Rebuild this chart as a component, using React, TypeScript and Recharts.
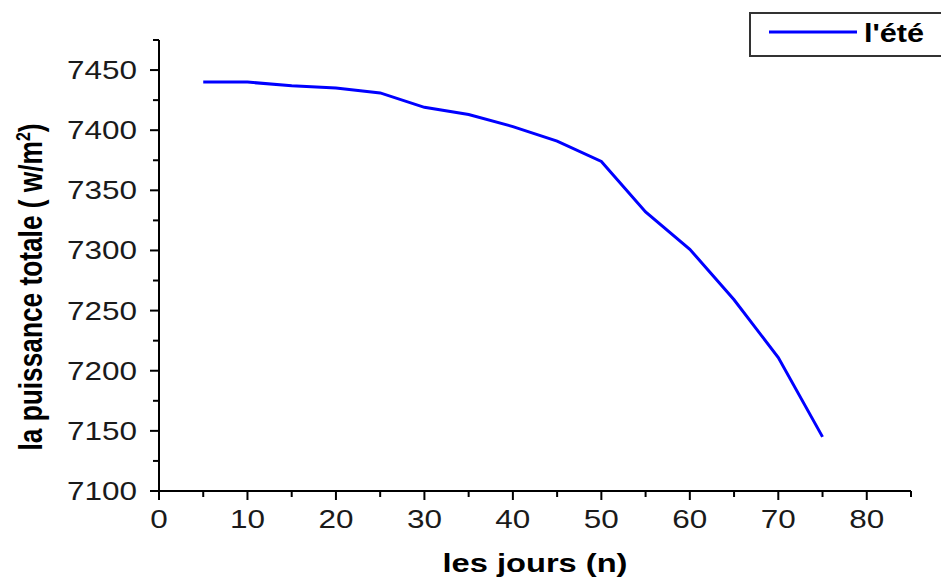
import { LineChart, Line, XAxis, YAxis, Legend, Label } from "recharts";

// jours (n) et puissance totale (w/m²) - été
const days = [5, 10, 15, 20, 25, 30, 35, 40, 45, 50, 55, 60, 65, 70, 75];
const puissance = [
  7440, 7440, 7437, 7435, 7431, 7419, 7413, 7403, 7391, 7374, 7332, 7301, 7259,
  7211, 7145,
];

const xMajor = [0, 10, 20, 30, 40, 50, 60, 70, 80];
const xMinor = [5, 15, 25, 35, 45, 55, 65, 75, 85];
const yMajor = [7100, 7150, 7200, 7250, 7300, 7350, 7400, 7450];
const yMinor = [7125, 7175, 7225, 7275, 7325, 7375, 7425, 7475];

const data = days.map((n, i) => ({ n, ete: puissance[i] }));

const FONT = "'Liberation Sans', Arial, sans-serif";
const DIGIT_W = 17.5;

function XTick(props: any) {
  const { x, y, payload } = props;
  const v = payload.value;
  const major = xMajor.includes(v);
  const s = String(v);
  return (
    <g>
      <line x1={x} x2={x} y1={y} y2={y + (major ? 9 : 6)} stroke="#000" strokeWidth={2} />
      {major && (
        <text
          x={x}
          y={y + 37}
          textAnchor="middle"
          fontSize={25}
          fontFamily={FONT}
          fill="#1a1a1a"
          textLength={s.length * DIGIT_W}
          lengthAdjust="spacingAndGlyphs"
        >
          {s}
        </text>
      )}
    </g>
  );
}

function YTick(props: any) {
  const { x, y, payload } = props;
  const v = payload.value;
  const major = yMajor.includes(v);
  const s = String(v);
  return (
    <g>
      <line x1={x - (major ? 9 : 6)} x2={x} y1={y} y2={y} stroke="#000" strokeWidth={2} />
      {major && (
        <text
          x={x - 22}
          y={y + 9}
          textAnchor="end"
          fontSize={25}
          fontFamily={FONT}
          fill="#1a1a1a"
          textLength={s.length * DIGIT_W}
          lengthAdjust="spacingAndGlyphs"
        >
          {s}
        </text>
      )}
    </g>
  );
}

function LegendBox() {
  return (
    <svg width={200} height={46} style={{ display: "block" }}>
      <rect x={1} y={1} width={210} height={43} fill="#fff" stroke="#333" strokeWidth={2} />
      <line x1={20} x2={108} y1={20} y2={20} stroke="#0000ff" strokeWidth={3} />
      <text
        x={115}
        y={30}
        fontSize={26}
        fontWeight="bold"
        fontFamily={FONT}
        fill="#000"
        textLength={60}
        lengthAdjust="spacingAndGlyphs"
      >
        l'été
      </text>
    </svg>
  );
}

export default function App() {
  return (
    <div
      style={{
        position: "absolute",
        left: 0,
        top: 0,
        width: 941,
        height: 577,
        overflow: "hidden",
        background: "#fff",
      }}
    >
      <LineChart
        width={941}
        height={577}
        data={data}
        margin={{ top: 40, right: 30, left: 0, bottom: 0 }}
      >
        <XAxis
          dataKey="n"
          type="number"
          domain={[0, 85]}
          ticks={[...xMajor, ...xMinor].sort((a, b) => a - b)}
          interval={0}
          height={86}
          tickSize={0}
          tickMargin={0}
          tickLine={false}
          axisLine={{ stroke: "#000", strokeWidth: 2 }}
          tick={(p: any) => <XTick {...p} />}
          allowDataOverflow
        >
          <Label
            content={() => (
              <text
                x={535}
                y={572}
                textAnchor="middle"
                fontSize={26}
                fontWeight="bold"
                fontFamily={FONT}
                fill="#000"
                textLength={185}
                lengthAdjust="spacingAndGlyphs"
              >
                les jours (n)
              </text>
            )}
          />
        </XAxis>
        <YAxis
          type="number"
          domain={[7100, 7475]}
          ticks={[...yMajor, ...yMinor].sort((a, b) => a - b)}
          interval={0}
          width={159}
          tickSize={0}
          tickMargin={0}
          tickLine={false}
          axisLine={{ stroke: "#000", strokeWidth: 2 }}
          tick={(p: any) => <YTick {...p} />}
          allowDataOverflow
        >
          <Label
            content={() => (
              <text
                x={42}
                y={287}
                transform="rotate(-90 42 287)"
                textAnchor="middle"
                fontSize={33}
                fontWeight="bold"
                fontFamily={FONT}
                fill="#000"
                textLength={327}
                lengthAdjust="spacingAndGlyphs"
              >
                la puissance totale ( w/m
                <tspan fontSize={20} dy={-12}>
                  2
                </tspan>
                <tspan dy={12}>)</tspan>
              </text>
            )}
          />
        </YAxis>
        <Legend
          layout="horizontal"
          verticalAlign="middle"
          align="center"
          wrapperStyle={{ top: 12, left: 749, width: 200, height: 46 }}
          content={() => <LegendBox />}
        />
        <Line
          type="linear"
          dataKey="ete"
          stroke="#0000ff"
          strokeWidth={3}
          dot={false}
          isAnimationActive={false}
          name="l'été"
        />
      </LineChart>
    </div>
  );
}
